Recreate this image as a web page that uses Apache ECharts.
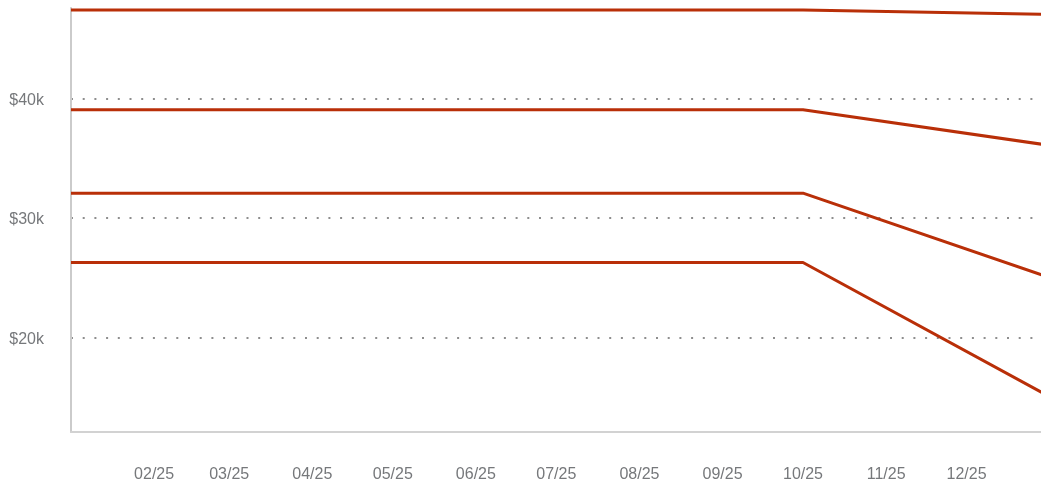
<!DOCTYPE html>
<html>
<head>
<meta charset="utf-8">
<script src="https://cdn.jsdelivr.net/npm/echarts@6/dist/echarts.min.js"></script>
<style>
html,body{margin:0;padding:0;background:#fff;overflow:hidden;}
#chart{width:1041px;height:481px;}
</style>
</head>
<body>
<div id="chart"></div>
<script>
// Dates (knots of each line)
const dates = ['2025-01-01', '2025-10-01', '2025-12-31'];
// Series values (USD)
const line1 = [47430, 47430, 47060];
const line2 = [39080, 39080, 36130];
const line3 = [32100, 32100, 25110];
const line4 = [26290, 26290, 15180];
// Tick positions / labels
const monthTicks = ['2025-02-01','2025-03-01','2025-04-01','2025-05-01','2025-06-01','2025-07-01','2025-08-01','2025-09-01','2025-10-01','2025-11-01','2025-12-01'];
const yTicks = [20000, 30000, 40000];
const xMin = '2025-01-01';
const xMax = '2025-12-31';
const yMin = 12100;
const yMax = 47600;

const labelColor = '#76787b';
const lineColor = '#b92f08';

const ts = (s) => Date.parse(s + 'T00:00:00Z');
function pair(vals) { return dates.map((d, i) => [ts(d), vals[i]]); }
function fmtMonth(v) {
  const d = new Date(v);
  const m = d.getUTCMonth() + 1;
  const y = d.getUTCFullYear() % 100;
  return (m < 10 ? '0' + m : '' + m) + '/' + (y < 10 ? '0' + y : '' + y);
}

const chart = echarts.init(document.getElementById('chart'));
const seriesList = [line1, line2, line3, line4].map((vals) => ({
  type: 'line',
  data: pair(vals),
  symbol: 'none',
  lineStyle: { color: lineColor, width: 3 },
  animation: false
}));

const monthTs = monthTicks.map(ts);

chart.setOption({
  animation: false,
  grid: { left: 71, right: -6, top: 8, bottom: 49, containLabel: false, outerBoundsMode: 'none' },
  xAxis: {
    type: 'value',
    min: ts(xMin),
    max: ts(xMax),
    axisLine: { show: true, lineStyle: { color: '#d2d2d2', width: 2 } },
    axisTick: { show: false, customValues: monthTs },
    splitLine: { show: false },
    axisLabel: {
      customValues: monthTs,
      formatter: fmtMonth,
      color: labelColor,
      fontSize: 16,
      fontFamily: 'Liberation Sans, Arial, sans-serif',
      margin: 35,
      hideOverlap: false
    }
  },
  yAxis: {
    type: 'value',
    min: yMin,
    max: yMax,
    axisLine: { show: true, lineStyle: { color: '#cbcbcb', width: 2 } },
    axisTick: { show: false, customValues: yTicks },
    splitLine: { show: true, lineStyle: { color: '#8e8e8e', width: 2, type: [2, 9.7] } },
    axisLabel: {
      customValues: yTicks,
      formatter: (v) => '{v|$' + Math.round(v / 1000) + 'k}',
      margin: 27,
      rich: {
        v: {
          color: labelColor,
          fontSize: 16,
          fontFamily: 'Liberation Sans, Arial, sans-serif',
          padding: [3, 0, 0, 0]
        }
      }
    }
  },
  series: seriesList
});
</script>
</body>
</html>
